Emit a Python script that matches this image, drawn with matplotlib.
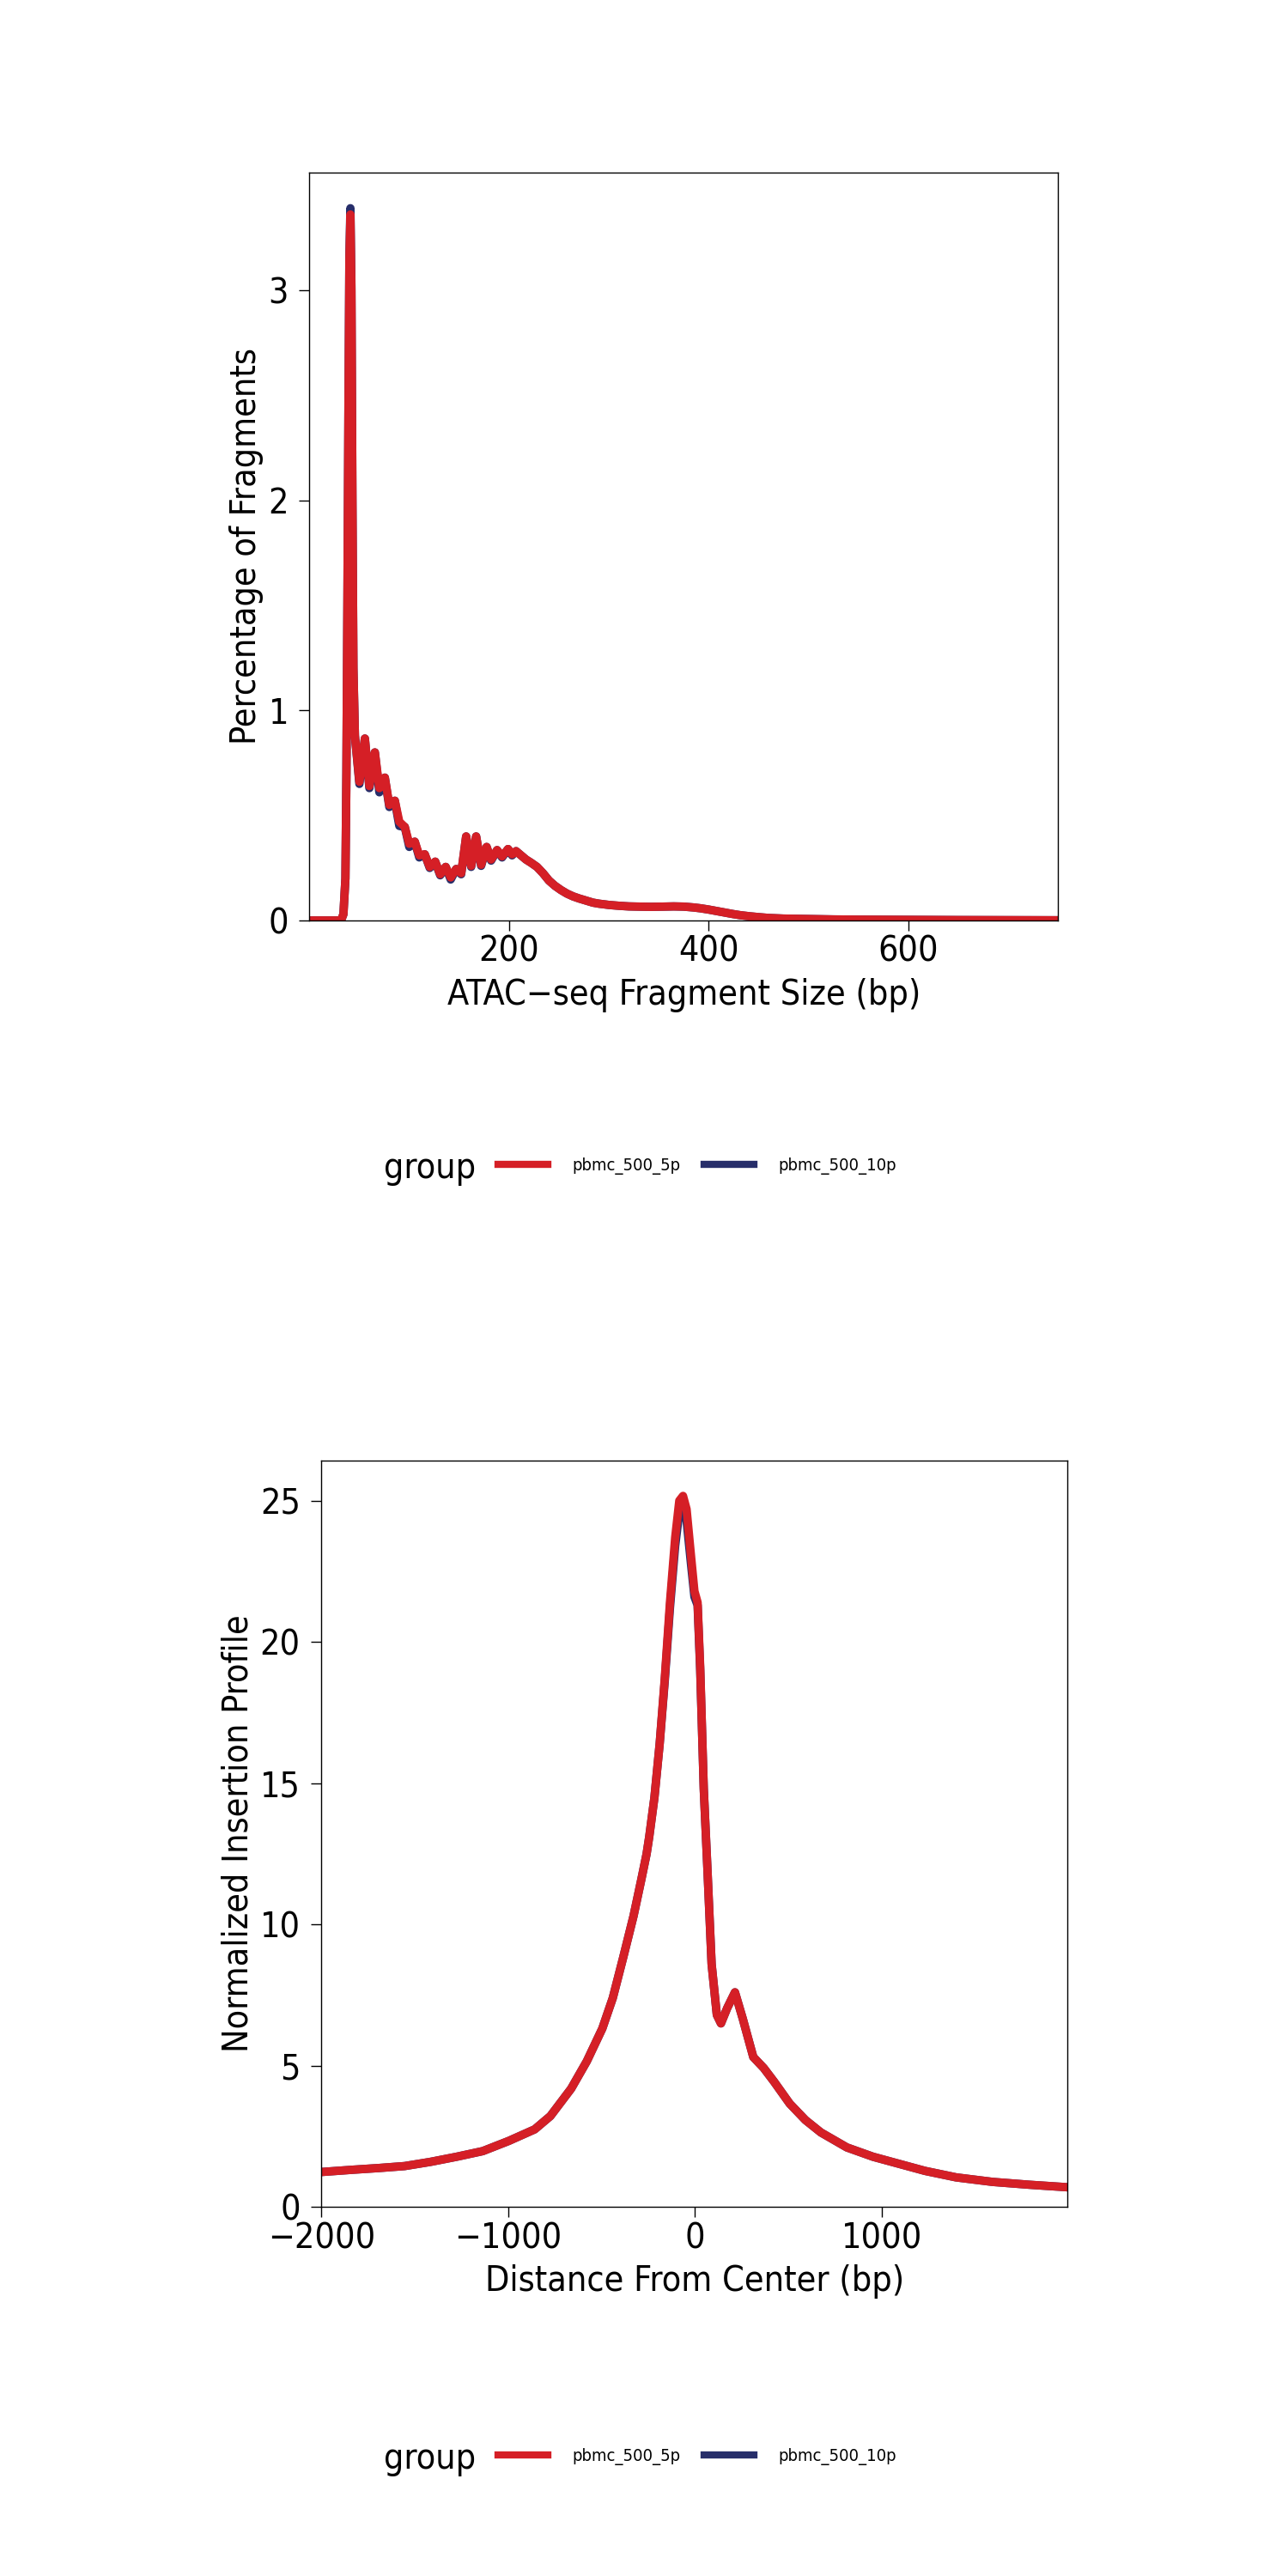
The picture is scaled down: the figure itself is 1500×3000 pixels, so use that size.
import matplotlib
matplotlib.use("Agg")
import matplotlib.pyplot as plt
from matplotlib.lines import Line2D

plt.rcParams['font.family'] = ['DejaVu Sans']
plt.rcParams['font.stretch'] = 'condensed'

# ---------------- data ----------------
groups = ['pbmc_500_5p', 'pbmc_500_10p']
colors = {'pbmc_500_5p': '#D51F26', 'pbmc_500_10p': '#272E6A'}

# fragment size distribution (percentage of fragments)
frag_x = [0, 30, 32, 34, 36, 37, 38, 39, 40, 41, 42, 43, 44, 45.5, 50, 55.5, 60,
          65.5, 70, 75.5, 80, 85.5, 90, 95.5, 100, 105.5, 110, 115.5, 120.5, 126,
          131, 136.5, 141.5, 147, 152, 157, 162, 167, 172, 177.5, 182, 188, 193,
          199, 203, 207, 212, 217, 222, 228, 234, 240, 246, 252, 258, 264, 270,
          277, 284, 290, 300, 310, 320, 330, 342, 355, 365, 375, 385, 392, 400,
          408, 416, 424, 432, 441, 450, 460, 475, 500, 525, 550, 600, 650, 700, 750]
frag_5p = [0.0, 0.0, 0.005, 0.03, 0.2, 0.7, 1.5, 2.4, 3.15, 3.36, 3.0, 2.0, 1.2, 0.88,
           0.66, 0.866, 0.64, 0.80, 0.63, 0.68, 0.55, 0.57, 0.47, 0.445, 0.365, 0.375,
           0.31, 0.315, 0.255, 0.28, 0.22, 0.255, 0.205, 0.245, 0.225, 0.40, 0.26, 0.40,
           0.265, 0.35, 0.29, 0.335, 0.305, 0.34, 0.315, 0.33, 0.31, 0.29, 0.275, 0.255,
           0.225, 0.19, 0.165, 0.145, 0.128, 0.115, 0.105, 0.095, 0.085, 0.08, 0.074,
           0.07, 0.067, 0.066, 0.065, 0.066, 0.067, 0.066, 0.062, 0.058, 0.052, 0.045,
           0.038, 0.031, 0.025, 0.02, 0.016, 0.012, 0.009, 0.007, 0.005, 0.004, 0.003,
           0.002, 0.0015, 0.001]
frag_10p = [0.0, 0.0, 0.005, 0.03, 0.2, 0.7, 1.5, 2.4, 3.17, 3.39, 3.02, 2.0, 1.2, 0.88,
            0.65, 0.866, 0.63, 0.80, 0.61, 0.68, 0.54, 0.57, 0.45, 0.445, 0.35, 0.375,
            0.30, 0.315, 0.25, 0.28, 0.215, 0.255, 0.195, 0.245, 0.22, 0.40, 0.255, 0.40,
            0.26, 0.35, 0.285, 0.335, 0.30, 0.34, 0.31, 0.33, 0.31, 0.29, 0.275, 0.255,
            0.225, 0.19, 0.165, 0.145, 0.128, 0.115, 0.105, 0.095, 0.085, 0.08, 0.074,
            0.07, 0.067, 0.066, 0.065, 0.066, 0.067, 0.066, 0.062, 0.058, 0.052, 0.045,
            0.038, 0.031, 0.025, 0.02, 0.016, 0.012, 0.009, 0.007, 0.005, 0.004, 0.003,
            0.002, 0.0015, 0.001]

# TSS insertion profile
tss_x = [-2000, -1833, -1694, -1554, -1415, -1276, -1136, -997, -858, -774, -663,
         -579, -496, -440, -384, -329, -287, -259, -245, -217, -189, -162, -134,
         -106, -84, -64, -45, -22, -3, 14, 28, 47, 67, 89, 117, 139, 173, 214, 256,
         312, 368, 423, 507, 591, 674, 813, 953, 1092, 1231, 1398, 1593, 1788, 1994]
tss_5p = [1.24, 1.32, 1.38, 1.45, 1.60, 1.78, 1.98, 2.34, 2.75, 3.22, 4.19, 5.16,
          6.32, 7.40, 8.84, 10.3, 11.6, 12.5, 13.1, 14.5, 16.4, 18.7, 21.4, 23.7,
          25.0, 25.17, 24.7, 23.1, 21.8, 21.4, 19.1, 14.8, 11.9, 8.6, 6.8, 6.5, 7.05,
          7.6, 6.66, 5.31, 4.92, 4.44, 3.66, 3.08, 2.64, 2.11, 1.78, 1.53, 1.28, 1.05,
          0.89, 0.79, 0.70]
tss_10p = [1.24, 1.32, 1.38, 1.45, 1.60, 1.78, 1.98, 2.34, 2.75, 3.22, 4.19, 5.16,
           6.32, 7.40, 8.84, 10.3, 11.6, 12.5, 13.1, 14.5, 16.4, 18.6, 21.2, 23.4,
           24.6, 24.75, 24.3, 22.8, 21.6, 21.3, 19.0, 14.8, 11.9, 8.6, 6.8, 6.5, 7.05,
           7.6, 6.66, 5.31, 4.92, 4.44, 3.66, 3.08, 2.64, 2.11, 1.78, 1.53, 1.28, 1.05,
           0.89, 0.79, 0.70]

# ---------------- figure ----------------
fig = plt.figure(figsize=(15, 30), dpi=100)

FS = 29.5
LW = 7.0


def style_axes(ax):
    for sp in ax.spines.values():
        sp.set_linewidth(1.0)
        sp.set_color('black')
    ax.tick_params(axis='both', length=8.6, width=1.0, labelsize=FS, direction='out')
    ax.tick_params(axis='x', pad=3.5)
    ax.tick_params(axis='y', pad=9)


def add_legend(y_line):
    fig.text(447 / 1500, y_line - 14 / 3000, 'group', fontsize=FS, va='baseline', ha='left')
    handles = [Line2D([], [], color=colors[g], lw=6.0) for g in groups]
    fig.legend(handles, groups, loc='center left', bbox_to_anchor=(580 / 1500, y_line),
               ncol=2, frameon=False, fontsize=14.5, handlelength=2.88,
               handletextpad=1.39, columnspacing=1.39, borderpad=0, borderaxespad=0)


# panel 1: fragment sizes
ax1 = fig.add_axes([0.2403, 0.64267, 0.581, 0.29033])
ax1.plot(frag_x, frag_10p, color=colors['pbmc_500_10p'], lw=LW)
ax1.plot(frag_x, frag_5p, color=colors['pbmc_500_5p'], lw=LW)
ax1.set_xlim(0, 750)
ax1.set_ylim(0, 1.05 * max(max(frag_5p), max(frag_10p)))
ax1.set_xticks([200, 400, 600])
ax1.set_yticks([0, 1, 2, 3])
ax1.set_xlabel('ATAC\u2212seq Fragment Size (bp)', fontsize=FS, labelpad=7)
ax1.set_ylabel('Percentage of Fragments', fontsize=FS, labelpad=4)
style_axes(ax1)
add_legend(1 - 1358 / 3000)

# panel 2: TSS insertion profile
ax2 = fig.add_axes([0.2495, 0.14323, 0.5793, 0.28987])
ax2.plot(tss_x, tss_10p, color=colors['pbmc_500_10p'], lw=LW)
ax2.plot(tss_x, tss_5p, color=colors['pbmc_500_5p'], lw=LW)
ax2.set_xlim(min(tss_x), max(tss_x))
ax2.set_ylim(0, 1.05 * max(max(tss_5p), max(tss_10p)))
ax2.set_xticks([-2000, -1000, 0, 1000])
ax2.set_yticks([0, 5, 10, 15, 20, 25])
ax2.set_xlabel('Distance From Center (bp)', fontsize=FS, labelpad=7)
ax2.set_ylabel('Normalized Insertion Profile', fontsize=FS, labelpad=4)
style_axes(ax2)
add_legend(1 - 2861 / 3000)

fig.savefig('out.png', dpi=100)
